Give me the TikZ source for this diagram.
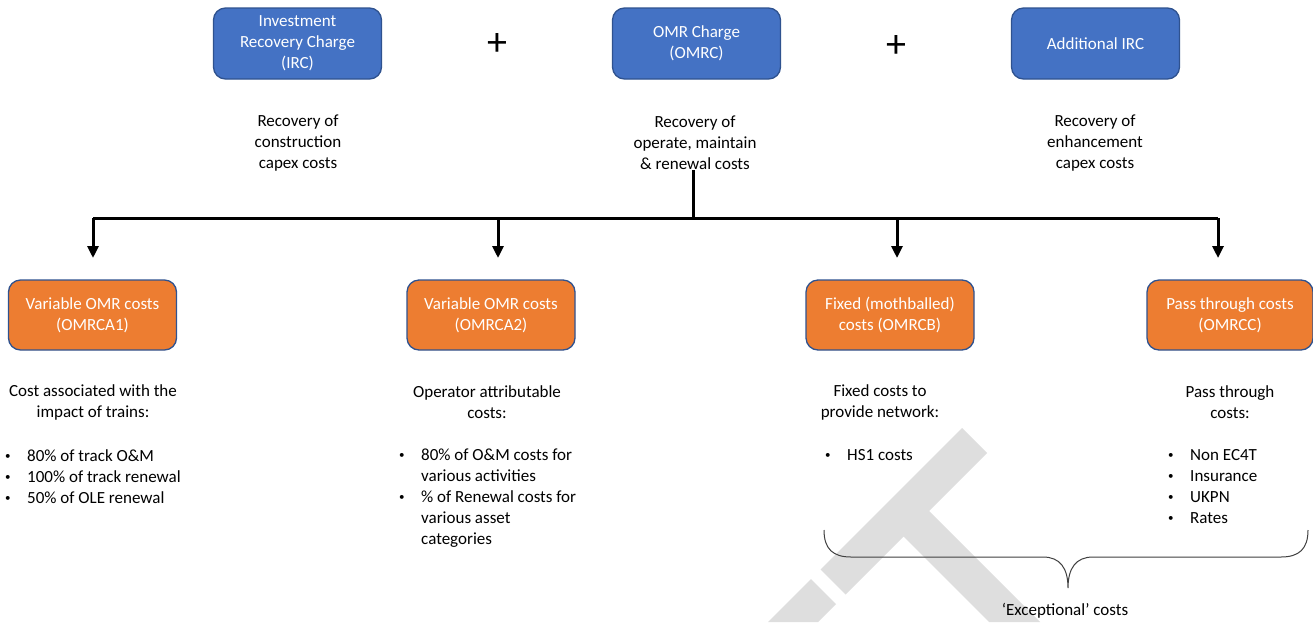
\documentclass[tikz,border=0pt]{standalone}
\usepackage{fontspec}
\setmainfont{Carlito}
\usetikzlibrary{arrows.meta}
\definecolor{chargeblue}{HTML}{4472C4}
\definecolor{costorange}{HTML}{ED7D31}
\definecolor{boxedge}{HTML}{2F528F}
\definecolor{markgray}{HTML}{DEDEDE}
\definecolor{bracegray}{HTML}{404040}
\newcommand{\bul}{\makebox[22pt][l]{\raisebox{2pt}{\fontsize{11}{11}\selectfont\textbullet}}}
\newcommand{\ind}{\hspace*{22pt}}
\begin{document}
\begin{tikzpicture}[x=1pt,y=-1pt,
    font=\fontsize{17}{21}\selectfont,
    charge/.style={draw=boxedge, fill=chargeblue, line width=1.3pt, rounded corners=12pt,
      minimum width=168pt, minimum height=71pt, text=white, align=center, inner sep=0pt},
    part/.style={charge, fill=costorange, minimum height=70pt},
    note/.style={align=center, inner sep=0pt},
    items/.style={align=left, anchor=north west, inner sep=0pt},
    bus/.style={line width=3pt},
    feed/.style={line width=3pt, -{Triangle[length=12pt,width=11pt]}}]
    \fill[white] (0,0) rectangle (1313,622);
    \useasboundingbox (0,0) rectangle (1313,622);
    % watermark
    \fill[markgray] (962,428) -- (987,453) -- (929,511) -- (1040,622) -- (989,622)
        -- (903.5,536.5) -- (845.5,594.5) -- (820.5,569.5) -- cycle;
    \fill[markgray] (811,579) -- (836,604) -- (818,622) -- (768,622) -- cycle;
    % charges
    \node[charge] (irc) at (297.5,43.5) {Investment\\Recovery Charge\\(IRC)};
    \node[charge] (omrc) at (696.5,43.5) {OMR Charge\\(OMRC)};
    \node[charge] (airc) at (1095.5,43.5) {Additional IRC};
    \node[font=\fontsize{40}{40}\selectfont, inner sep=0pt] (plusa) at (497,44) {+};
    \node[font=\fontsize{40}{40}\selectfont, inner sep=0pt] (plusb) at (896,46) {+};
    \node[note] (ircnote) at (298,143) {Recovery of\\construction\\capex costs};
    \node[note] (omrnote) at (695,143) {Recovery of\\operate, maintain\\\& renewal costs};
    \node[note] (airnote) at (1095,143) {Recovery of\\enhancement\\capex costs};
    % cost parts
    \node[part] (varA) at (92.5,315) {Variable OMR costs\\(OMRCA1)};
    \node[part] (varB) at (491,315) {Variable OMR costs\\(OMRCA2)};
    \node[part] (fixed) at (890,315) {Fixed (mothballed)\\costs (OMRCB)};
    \node[part, minimum width=166pt] (pass) at (1230,315) {Pass through costs\\(OMRCC)};
    \node[note] (varAnote) at (93,402.5) {Cost associated with the\\impact of trains:};
    \node[note] (varBnote) at (487,402.5) {Operator attributable\\costs:};
    \node[note] (fixednote) at (880,402.5) {Fixed costs to\\provide network:};
    \node[note] (passnote) at (1230,402.5) {Pass through\\costs:};
    \node[items] (varAlist) at (5,449) {\bul 80\% of track O\&M\\\bul 100\% of track renewal\\\bul 50\% of OLE renewal};
    \node[items] (varBlist) at (399,449) {\bul 80\% of O\&M costs for\\\ind various activities\\\bul \% of Renewal costs for\\\ind various asset\\\ind categories};
    \node[items] (fixedlist) at (825,449) {\bul HS1 costs};
    \node[items] (passlist) at (1168,449) {\bul Non EC4T\\\bul Insurance\\\bul UKPN\\\bul Rates};
    % connectors
    \coordinate (split) at (693,218);
    \coordinate (busL) at (93,218);
    \coordinate (busR) at (1218,218);
    \draw[bus] (omrnote.south -| split) -- (split);
    \draw[bus] (busL) -- (busR);
    \coordinate (endA) at (93,258);
    \coordinate (endB) at (498,258);
    \coordinate (endC) at (897,258);
    \coordinate (endD) at (1218,258);
    \foreach \e in {endA,endB,endC,endD}
        \draw[feed] (\e |- split) -- (\e);
    % exceptional brace
    \draw[bracegray, line width=1pt] (824,530) .. controls (824,549) and (833,557) .. (851,557)
        -- (1043,557) .. controls (1060,557) and (1068,568) .. (1068,588)
        .. controls (1068,568) and (1076,557) .. (1093,557) -- (1281,557)
        .. controls (1299,557) and (1308,549) .. (1308,530);
    \node[inner sep=0pt] (exc) at (1065,611) {‘Exceptional’ costs};
\end{tikzpicture}
\end{document}
